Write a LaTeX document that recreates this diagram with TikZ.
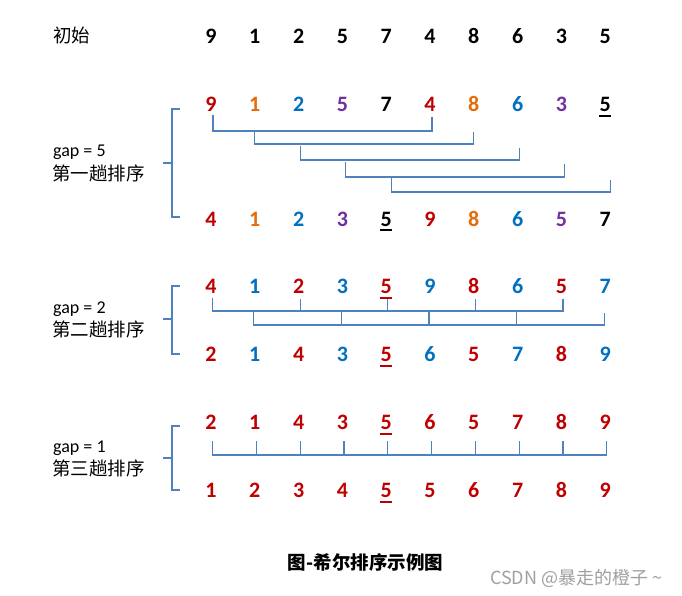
\documentclass[tikz,border=0pt]{standalone}
\usepackage{fontspec}
\usetikzlibrary{calc}
\setmainfont{Carlito}
\newfontfamily\cjk{Noto Sans CJK SC}
\definecolor{cr}{HTML}{C00000}
\definecolor{co}{HTML}{E46C0A}
\definecolor{cb}{HTML}{0070C0}
\definecolor{cp}{HTML}{7030A0}
\definecolor{lc}{HTML}{4F81BD}
\definecolor{wm}{HTML}{A0A0A0}
\tikzset{
  dig/.style={font=\fontsize{22}{22}\selectfont\bfseries, inner sep=0pt, anchor=base},
  lbl/.style={font=\fontsize{18}{20}\selectfont, inner sep=0pt, anchor=base west},
  clbl/.style={font=\cjk\fontsize{18.5}{20}\selectfont, inner sep=0pt, anchor=base west},
  br/.style={draw=lc, line width=1.2pt},
  ul/.style={line width=2pt},
}
\begin{document}
\begin{tikzpicture}[x=1pt,y=-1pt]
\useasboundingbox[fill=white] (0,0) rectangle (682,596);
% labels
\node[clbl] (l0) at (53,43) {初始};
\node[lbl] (g1) at (53,157) {gap = 5};
\node[clbl] (s1) at (52,180) {第一趟排序};
\node[lbl] (g2) at (53,313) {gap = 2};
\node[clbl] (s2) at (52,336) {第二趟排序};
\node[lbl] (g3) at (53,452) {gap = 1};
\node[clbl] (s3) at (52,475) {第三趟排序};
% rows
\foreach \v [count=\i] in {9,1,2,5,7,4,8,6,3,5}
  \node[dig] (i\i) at ({211+43.8*(\i-1)},44) {\v};
\foreach \v/\c [count=\i] in {9/cr,1/co,2/cb,5/cp,7/black,4/cr,8/co,6/cb,3/cp,5/black}
  \node[dig,text=\c] (a\i) at ({211+43.8*(\i-1)},112) {\v};
\foreach \v/\c [count=\i] in {4/cr,1/co,2/cb,3/cp,5/black,9/cr,8/co,6/cb,5/cp,7/black}
  \node[dig,text=\c] (b\i) at ({211+43.8*(\i-1)},226) {\v};
\foreach \v/\c [count=\i] in {4/cr,1/cb,2/cr,3/cb,5/cr,9/cb,8/cr,6/cb,5/cr,7/cb}
  \node[dig,text=\c] (c\i) at ({211+43.8*(\i-1)},293) {\v};
\foreach \v/\c [count=\i] in {2/cr,1/cb,4/cr,3/cb,5/cr,6/cb,5/cr,7/cb,8/cr,9/cb}
  \node[dig,text=\c] (d\i) at ({211+43.8*(\i-1)},361) {\v};
\foreach \v [count=\i] in {2,1,4,3,5,6,5,7,8,9}
  \node[dig,text=cr] (e\i) at ({211+43.8*(\i-1)},429) {\v};
\foreach \v [count=\i] in {1,2,3,4,5,5,6,7,8,9}
  \node[dig,text=cr] (f\i) at ({211+43.8*(\i-1)},497) {\v};
% underlines
\draw[ul,black] ([yshift=-4pt]a10.base west) -- ([yshift=-4pt]a10.base east);
\draw[ul,black] ([yshift=-4pt]b5.base west) -- ([yshift=-4pt]b5.base east);
\foreach \n in {c5,d5,e5,f5}
  \draw[ul,cr] ([yshift=-5pt]\n.base west) -- ([yshift=-5pt]\n.base east);
% left braces
\draw[br] (180,109) -- (172,109) -- (172,217) -- (180,217) (172,163) -- (163,163);
\draw[br] (180,286) -- (172,286) -- (172,354) -- (180,354) (172,319) -- (163,319);
\draw[br] (180,426) -- (172,426) -- (172,490) -- (180,490) (172,458) -- (163,458);
% gap = 5 brackets
\draw[br] ($(a1 |- 0,115)+(2,0)$) -- ($(a1 |- 0,131)+(2,0)$) -- ($(a6 |- 0,131)+(2,0)$) -- ($(a6 |- 0,117)+(2,0)$);
\draw[br] (a2 |- 0,131) -- (a2 |- 0,144) -- (a7 |- 0,144) -- (a7 |- 0,132);
\draw[br] ($(a3 |- 0,146)+(1.5,0)$) -- ($(a3 |- 0,160)+(1.5,0)$) -- ($(a8 |- 0,160)+(1.5,0)$) -- ($(a8 |- 0,148)+(1.5,0)$);
\draw[br] ($(a4 |- 0,162)+(3,0)$) -- ($(a4 |- 0,177)+(3,0)$) -- ($(a9 |- 0,177)+(3,0)$) -- ($(a9 |- 0,164)+(3,0)$);
\draw[br] ($(a5 |- 0,178)+(5,0)$) -- ($(a5 |- 0,192)+(5,0)$) -- ($(a10 |- 0,192)+(5,0)$) -- ($(a10 |- 0,180)+(5,0)$);
% gap = 2 brackets
\draw[br] ($(c1 |- 0,298)+(1.5,0)$) -- ($(c1 |- 0,311)+(1.5,0)$) -- ($(c9 |- 0,311)+(1.5,0)$) -- ($(c9 |- 0,299)+(1.5,0)$);
\foreach \k in {3,5,7}
  \draw[br] ($(c\k |- 0,299)+(1.5,0)$) -- ($(c\k |- 0,311)+(1.5,0)$);
\draw[br] ($(c2 |- 0,311)+(-1,0)$) -- ($(c2 |- 0,325)+(-1,0)$) -- ($(c10 |- 0,325)+(-1,0)$) -- ($(c10 |- 0,313)+(-1,0)$);
\foreach \k in {4,6,8}
  \draw[br] ($(c\k |- 0,312)+(-1,0)$) -- ($(c\k |- 0,325)+(-1,0)$);
% gap = 1
\draw[br] ($(e1 |- 0,441)+(1.5,0)$) -- ($(e1 |- 0,455)+(1.5,0)$) -- ($(e10 |- 0,455)+(1.5,0)$) -- ($(e10 |- 0,441)+(1.5,0)$);
\foreach \k in {2,...,9}
  \draw[br] ($(e\k |- 0,441)+(1.5,0)$) -- ($(e\k |- 0,455)+(1.5,0)$);
% caption and watermark
\node[font=\cjk\fontsize{18.5}{20}\selectfont\bfseries, inner sep=0pt] (cap) at (365.5,562) {图-希尔排序示例图};
\node[font=\cjk\fontsize{18}{18}\selectfont, text=wm, inner sep=0pt, anchor=base west] (wmk) at (490,584) {CSDN @暴走的橙子 \textasciitilde};
\end{tikzpicture}
\end{document}
